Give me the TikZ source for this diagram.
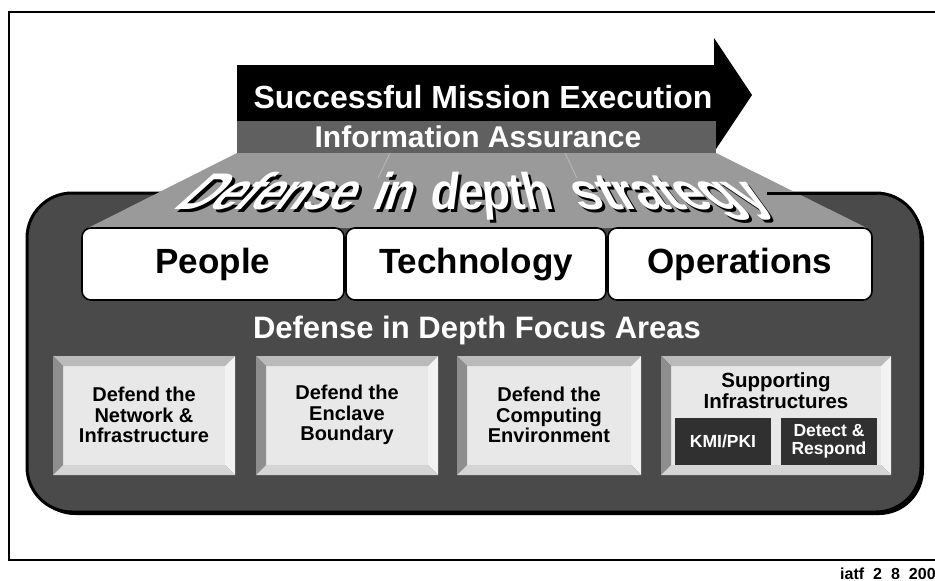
\documentclass[tikz,border=0pt]{standalone}
\usepackage{fontspec}
\setmainfont{Liberation Sans}
\definecolor{panel}{HTML}{4A4A4A}
\definecolor{iaband}{HTML}{606060}
\definecolor{floorc}{HTML}{9A9A9A}
\definecolor{ridge}{HTML}{B4B4B4}
\definecolor{bevtop}{HTML}{BABABA}
\definecolor{bevleft}{HTML}{8E8E8E}
\definecolor{bevright}{HTML}{F2F2F2}
\definecolor{bevbot}{HTML}{D5D5D5}
\definecolor{bevface}{HTML}{E8E8E8}
\definecolor{subdark}{HTML}{303030}
\newcommand\bevelbox[4]{%
  \fill[bevface] (#1+10,#2+10) rectangle (#3-10,#4-10);
  \fill[bevtop] (#1,#2) -- (#3,#2) -- (#3-10,#2+10) -- (#1+10,#2+10) -- cycle;
  \fill[bevleft] (#1,#2) -- (#1+10,#2+10) -- (#1+10,#4-10) -- (#1,#4) -- cycle;
  \fill[bevright] (#3,#2) -- (#3,#4) -- (#3-10,#4-10) -- (#3-10,#2+10) -- cycle;
  \fill[bevbot] (#1,#4) -- (#3,#4) -- (#3-10,#4-10) -- (#1+10,#4-10) -- cycle;
}
\begin{document}
\begin{tikzpicture}[x=1pt,y=-1pt,
  hdr/.style={text=white, inner sep=0pt, anchor=base, font=\fontsize{32}{36}\selectfont\bfseries},
  pillar/.style={draw=black, line width=1.6pt, fill=white, rounded corners=9pt, inner sep=0pt,
     minimum height=72pt, text height=26pt, text depth=7pt, font=\fontsize{35}{40}\selectfont\bfseries},
  areatxt/.style={align=center, inner sep=0pt, font=\fontsize{20}{20.5}\selectfont\bfseries, text=black},
  subbox/.style={fill=subdark, text=white, align=center, inner sep=0pt, minimum width=96pt,
     minimum height=47pt, font=\fontsize{17.5}{18.5}\selectfont\bfseries},
  wafont/.style={font=\fontsize{46}{50}\selectfont\bfseries, anchor=base, inner sep=0pt}]
\useasboundingbox (0,0) rectangle (935,581);
% outer frame
\draw[line width=2.5pt] (9,12) rectangle (970,560);
% arrow
\fill[black] (237,65) -- (714,65) -- (714,38) -- (752,95) -- (714,152) -- (714,121) -- (237,121) -- cycle;
\fill[iaband] (237,121) rectangle (716,153);
\node[hdr] (sme) at (483,108) {Successful Mission Execution};
\node[hdr, font=\fontsize{30}{34}\selectfont\bfseries] (ia) at (478,147) {Information\ Assurance};
% dark panel
\fill[black, rounded corners=45pt] (30,196) rectangle (924,515);
\draw[line width=3pt, fill=panel, rounded corners=45pt] (27,193) rectangle (921,512);
% floor trapezoid
\fill[floorc] (237,153) -- (716,153) -- (867,228) -- (88,228) -- cycle;
\draw[ridge, line width=1pt] (390,153) -- (378,178);
\draw[ridge, line width=1pt] (565,153) -- (577,178);
\draw[line width=3pt] (767,193) -- (877,193);
% word art
\foreach \ch/\xc/\sl/\xs [count=\i] in {D/188.6/1.11/1, e/218/1.0/1, f/238.5/0.92/1, e/258.9/0.84/1,
   n/285.8/0.74/1, s/312.6/0.63/1, e/338.2/0.53/1, i/376.4/0.39/1, n/396.9/0.31/1,
   d/444/0.13/1, e/470.9/0.02/1, p/497.8/-0.08/1, t/519.5/-0.16/1, h/541.2/-0.25/1,
   s/594/-0.45/1.1, t/616.5/-0.54/1.1, r/634.8/-0.61/1.1, a/658.7/-0.70/1.1, t/681.1/-0.79/1.1,
   e/703.6/-0.87/1.1, g/733.1/-0.99/1.1, y/762.6/-1.10/1.1}{
  \begin{scope}[shift={(\xc+3,212)}, xslant=\sl, xscale=\xs, yscale=1.12]
    \node[wafont, text=black, transform shape] (wsh\i) at (0,0) {\ch};
  \end{scope}
}
\foreach \ch/\xc/\sl/\xs [count=\i] in {D/188.6/1.11/1, e/218/1.0/1, f/238.5/0.92/1, e/258.9/0.84/1,
   n/285.8/0.74/1, s/312.6/0.63/1, e/338.2/0.53/1, i/376.4/0.39/1, n/396.9/0.31/1,
   d/444/0.13/1, e/470.9/0.02/1, p/497.8/-0.08/1, t/519.5/-0.16/1, h/541.2/-0.25/1,
   s/594/-0.45/1.1, t/616.5/-0.54/1.1, r/634.8/-0.61/1.1, a/658.7/-0.70/1.1, t/681.1/-0.79/1.1,
   e/703.6/-0.87/1.1, g/733.1/-0.99/1.1, y/762.6/-1.10/1.1}{
  \begin{scope}[shift={(\xc,209)}, xslant=\sl, xscale=\xs, yscale=1.12]
    \node[wafont, text=white, transform shape] (wtx\i) at (0,0) {\ch};
  \end{scope}
}
% pillars
\node[pillar, minimum width=262pt] (people) at (213,264) {People};
\node[pillar, minimum width=260pt] (tech) at (476,264) {Technology};
\node[pillar, minimum width=264pt] (ops) at (740,264) {Operations};
% focus areas
\node[hdr, font=\fontsize{31}{34}\selectfont\bfseries] (focus) at (477,338) {Defense in Depth Focus Areas};
\bevelbox{53}{356}{235}{475}
\bevelbox{256}{356}{438}{475}
\bevelbox{457}{356}{641}{475}
\bevelbox{661}{356}{891}{475}
\node[areatxt] (net) at (144,415) {Defend the\\Network \&\\Infrastructure};
\node[areatxt] (encl) at (347,415) {Defend the\\Enclave\\Boundary};
\node[areatxt] (comp) at (549,415) {Defend the\\Computing\\Environment};
\node[areatxt, font=\fontsize{20.5}{21}\selectfont\bfseries] (supp) at (776,391) {Supporting\\Infrastructures};
\node[subbox] (kmi) at (723,441.5) {KMI/PKI};
\node[subbox] (detect) at (829,441.5) {Detect \&\\Respond};
% footer
\node[anchor=base west, inner sep=0pt, font=\fontsize{16}{18}\selectfont\bfseries] (iatf) at (840,579)
  {iatf\hspace{9pt}2\hspace{9pt}8\hspace{9pt}2000};
\end{tikzpicture}
\end{document}
